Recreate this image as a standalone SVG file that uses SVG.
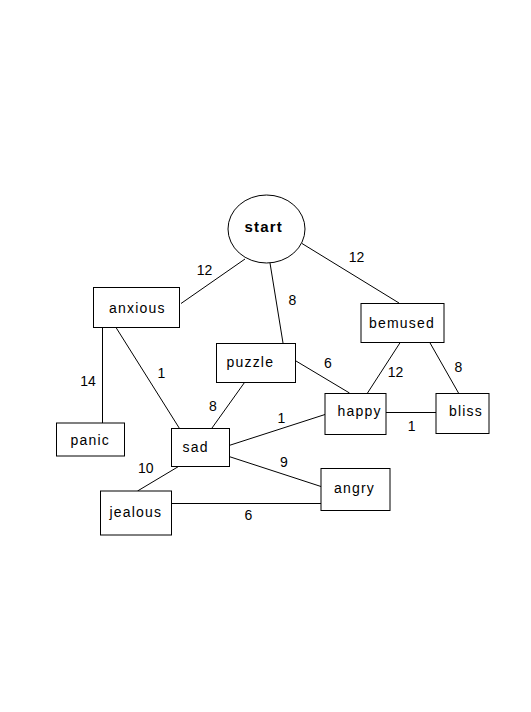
<svg xmlns="http://www.w3.org/2000/svg" width="531" height="712" viewBox="0 0 531 712">
<style>
.n{fill:#fff;stroke:#000;stroke-width:1}
.t{font-family:"Liberation Sans",Arial,sans-serif;font-size:14px;letter-spacing:1.2px;fill:#000}
.b{font-weight:bold;font-size:15px}
.e line{stroke:#000;stroke-width:1}
.l{font-family:"Liberation Sans",Arial,sans-serif;font-size:14px;fill:#000;text-anchor:middle}
</style>
<rect width="531" height="712" fill="#fff"/>
<g id="connectors" class="e">
<line x1="245" y1="259" x2="181" y2="303.5"/>
<line x1="270" y1="263" x2="283" y2="343"/>
<line x1="302" y1="243.5" x2="399" y2="303"/>
<line x1="102.5" y1="327" x2="102.5" y2="423"/>
<line x1="116" y1="327.5" x2="179.5" y2="428.5"/>
<line x1="244.5" y1="382.5" x2="212" y2="428"/>
<line x1="296" y1="361" x2="349.5" y2="393"/>
<line x1="400.5" y1="342" x2="367.5" y2="393"/>
<line x1="429.5" y1="342" x2="458.5" y2="393"/>
<line x1="386" y1="412.5" x2="436" y2="412.5"/>
<line x1="229" y1="445.5" x2="325" y2="414.5"/>
<line x1="229" y1="456.5" x2="321" y2="486.5"/>
<line x1="178.5" y1="466.5" x2="137.5" y2="491"/>
<line x1="171" y1="503.5" x2="321" y2="503.5"/>
<text class="l" x="204.5" y="275">12</text>
<text class="l" x="292.3" y="305">8</text>
<text class="l" x="356.5" y="262.3">12</text>
<text class="l" x="88" y="386">14</text>
<text class="l" x="161.5" y="378.3">1</text>
<text class="l" x="213" y="410.7">8</text>
<text class="l" x="328" y="368.3">6</text>
<text class="l" x="395.5" y="376.7">12</text>
<text class="l" x="458.3" y="371.7">8</text>
<text class="l" x="411.7" y="430.7">1</text>
<text class="l" x="281.5" y="422.7">1</text>
<text class="l" x="283.8" y="466.7">9</text>
<text class="l" x="145.8" y="473.3">10</text>
<text class="l" x="248.3" y="520">6</text>
</g>
<g id="start"><ellipse class="n" cx="266.5" cy="229" rx="38.5" ry="34"/><text class="t b" x="244.5" y="231.5">start</text></g>
<g id="anxious"><rect class="n" x="93.5" y="287.5" width="86" height="40"/><text class="t" x="109" y="312.5">anxious</text></g>
<g id="panic"><rect class="n" x="56.5" y="423" width="68" height="33"/><text class="t" x="70.5" y="444.5">panic</text></g>
<g id="puzzle"><rect class="n" x="216.5" y="343.5" width="79" height="39"/><text class="t" x="226.5" y="367">puzzle</text></g>
<g id="bemused"><rect class="n" x="361" y="303.5" width="83" height="39"/><text class="t" x="369" y="327.5">bemused</text></g>
<g id="happy"><rect class="n" x="325" y="393.5" width="61" height="41"/><text class="t" x="337.5" y="415.5">happy</text></g>
<g id="bliss"><rect class="n" x="436" y="393.5" width="53" height="40"/><text class="t" x="449" y="416">bliss</text></g>
<g id="sad"><rect class="n" x="171.5" y="428.5" width="58" height="38"/><text class="t" x="182.5" y="452">sad</text></g>
<g id="angry"><rect class="n" x="321" y="468.5" width="69" height="42"/><text class="t" x="334" y="493">angry</text></g>
<g id="jealous"><rect class="n" x="100.5" y="491" width="71" height="44"/><text class="t" x="109.5" y="517">jealous</text></g>
</svg>
